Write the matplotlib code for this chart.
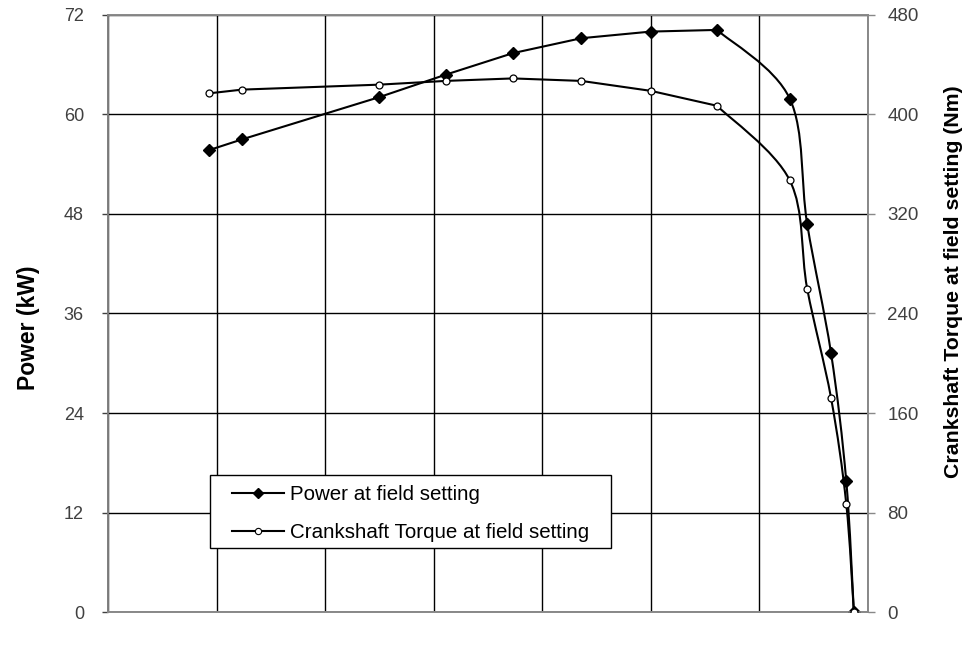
import numpy as np
import matplotlib
matplotlib.use("Agg")
import matplotlib.pyplot as plt
from matplotlib.path import Path
from matplotlib.patches import PathPatch, Rectangle
from matplotlib.lines import Line2D

plt.rcParams['font.family'] = ['Liberation Sans', 'DejaVu Sans']

# engine speed (rpm), no labels shown on the x axis
speed = [1186, 1247, 1500, 1622, 1746, 1872, 2000, 2122, 2256, 2288, 2332, 2360, 2374]
power_kw = [55.7, 57.0, 62.1, 64.8, 67.4, 69.2, 70.0, 70.2, 61.9, 46.8, 31.2, 15.8, 0.0]
torque_nm = [417, 420, 424, 427, 429, 427, 419, 407, 347, 260, 172, 87, 0]

x_grid = [1000, 1200, 1400, 1600, 1800, 2000, 2200, 2400]
power_ticks = [0, 12, 24, 36, 48, 60, 72]
torque_ticks = [0, 80, 160, 240, 320, 400, 480]

smooth_from = 7  # line is straight up to this point, smoothed after it


def line_path(xs, ys, start):
    # straight segments, then bezier (Catmull-Rom controls) for the drop-off
    p = np.column_stack([xs, ys]).astype(float)
    verts = [p[0]]
    codes = [Path.MOVETO]
    for i in range(1, start + 1):
        verts.append(p[i])
        codes.append(Path.LINETO)
    n = len(p)
    for i in range(start, n - 1):
        p0 = p[i - 1] if i > start else p[i]
        p3 = p[i + 2] if i + 2 < n else p[i + 1]
        c1 = p[i] + (p[i + 1] - p0) / 6.0
        c2 = p[i + 1] - (p3 - p[i]) / 6.0
        verts += [c1, c2, p[i + 1]]
        codes += [Path.CURVE4] * 3
    return Path(verts, codes)


fig = plt.figure(figsize=(9.71, 6.49), dpi=100)
ax = fig.add_axes([0.1112, 0.0570, 0.7827, 0.9199])
ax2 = ax.twinx()

ax.set_xlim(x_grid[0], x_grid[-1])
ax.set_ylim(power_ticks[0], power_ticks[-1])
ax2.set_ylim(torque_ticks[0], torque_ticks[-1])
ax.set_xticks(x_grid)
ax.set_xticklabels([])
ax.set_yticks(power_ticks)
ax2.set_yticks(torque_ticks)
ax.grid(True, color='black', linewidth=1.0)
ax.set_axisbelow(True)

ax.tick_params(axis='x', length=0)
ax.tick_params(axis='y', length=4.3, width=1, color='#404040', labelsize=13,
               labelcolor='#404040', pad=13)
ax2.tick_params(axis='y', length=5, width=1, color='#888888', labelsize=13.5,
                labelcolor='#404040', pad=9)

for a in (ax, ax2):
    for s in a.spines.values():
        s.set_color('#888888')
        s.set_linewidth(1.2)
ax.spines['left'].set_color('#404040')

ax.add_patch(PathPatch(line_path(speed, power_kw, smooth_from), facecolor='none',
                       edgecolor='black', linewidth=1.5, zorder=3))
ax.plot(speed, power_kw, linestyle='none', marker='D', markersize=6.2,
        color='black', zorder=4)
ax2.add_patch(PathPatch(line_path(speed, torque_nm, smooth_from), facecolor='none',
                        edgecolor='black', linewidth=1.5, zorder=3))
ax2.plot(speed, torque_nm, linestyle='none', marker='o', markersize=5,
         markerfacecolor='white', markeredgecolor='black', markeredgewidth=0.9,
         zorder=4)

ax.set_ylabel('Power (kW)', fontsize=16.5, fontweight='bold', va='center')
ax.yaxis.set_label_coords(-0.105, 0.476)
ax2.set_ylabel('Crankshaft Torque at field setting (Nm)', fontsize=15.3,
               fontweight='bold', va='center')
ax2.yaxis.set_label_coords(1.112, 0.553)

# legend box (wider horizontal padding than matplotlib's frame allows)
ax2.add_patch(Rectangle((0.1342, 0.1072), 0.5276, 0.1223, transform=ax2.transAxes,
                        facecolor='white', edgecolor='black', linewidth=1.0,
                        clip_on=False, zorder=4.9))
handles = [
    Line2D([], [], color='black', linewidth=1.5, marker='D', markersize=5),
    Line2D([], [], color='black', linewidth=1.5, marker='o', markersize=4.5,
           markerfacecolor='white', markeredgecolor='black', markeredgewidth=0.8),
]
leg = ax2.legend(handles, ['Power at field setting', 'Crankshaft Torque at field setting'],
                 loc='center', bbox_to_anchor=(0.398, 0.165), borderaxespad=0,
                 fontsize=14.8, frameon=False, borderpad=0.38, labelspacing=0.95,
                 handlelength=2.5, handletextpad=0.3)
leg.set_zorder(5)

fig.savefig('out.png', dpi=100)
